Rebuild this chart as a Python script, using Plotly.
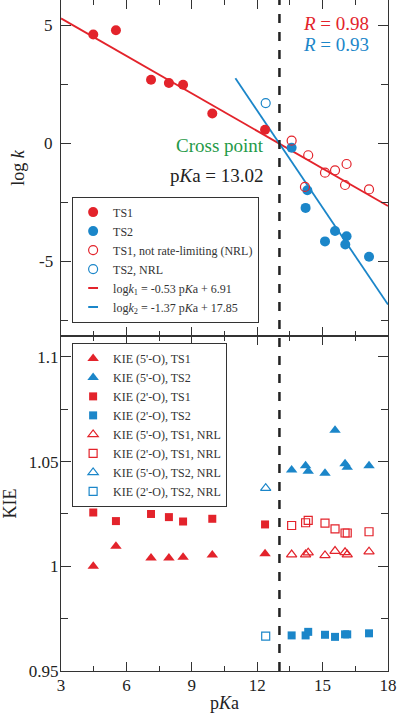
import plotly.graph_objects as go
from plotly.subplots import make_subplots

RED = '#e3232b'
BLUE = '#1b86c9'
GREEN = '#1f9a48'
FONT = 'Liberation Serif, Times New Roman, serif'

# ---- top panel: log k vs pKa ----
ts1_pka = [4.48, 5.52, 7.13, 7.95, 8.6, 9.94, 12.36]
ts1_logk = [4.64, 4.82, 2.72, 2.58, 2.51, 1.29, 0.6]
ts2_pka = [13.58, 14.3, 14.22, 15.57, 15.11, 16.1, 16.04, 17.13]
ts2_logk = [-0.16, -1.96, -2.71, -3.69, -4.13, -3.91, -4.26, -4.78]
ts1nrl_pka = [13.58, 14.34, 16.1, 15.11, 15.57, 16.03, 17.13, 14.19]
ts1nrl_logk = [0.14, -0.48, -0.85, -1.22, -1.12, -1.74, -1.93, -1.82]
ts2nrl_pka = [12.39]
ts2nrl_logk = [1.73]

fit1_slope, fit1_icpt = -0.53, 6.91
fit2_slope, fit2_icpt = -1.37, 17.85
fit1_x = [3, 18]
fit2_x = [11, 18]
cross_pka = 13.02

# ---- bottom panel: KIE vs pKa ----
kie_ts1_pka = [4.48, 5.52, 7.13, 7.95, 8.6, 9.94, 12.36]
kie5_ts1 = [1.000, 1.0096, 1.004, 1.004, 1.0043, 1.0054, 1.006]
kie2_ts1 = [1.0257, 1.0216, 1.025, 1.0235, 1.0214, 1.0227, 1.020]
kie_ts2_pka = [13.58, 14.22, 14.34, 15.11, 15.57, 16.03, 16.13, 17.13]
kie5_ts2 = [1.046, 1.048, 1.0454, 1.0444, 1.065, 1.049, 1.0473, 1.048]
kie2_ts2 = [0.967, 0.967, 0.9687, 0.9673, 0.9663, 0.9675, 0.9675, 0.968]
kie5_ts1_nrl = [1.0056, 1.0056, 1.0065, 1.0052, 1.0073, 1.0067, 1.0056, 1.007]
kie2_ts1_nrl = [1.0195, 1.0208, 1.0219, 1.0206, 1.0179, 1.0159, 1.0159, 1.0165]
kie_ts2nrl_pka = [12.39]
kie5_ts2_nrl = [1.0373]
kie2_ts2_nrl = [0.9667]

x_ticks = [3, 6, 9, 12, 15, 18]
logk_ticks = [-5, 0, 5]
logk_ticktext = ['-5', '0', '5']
kie_ticks = [0.95, 1.0, 1.05, 1.1]
kie_ticktext = ['0.95', '1', '1.05', '1.1']

fig = make_subplots(rows=2, cols=1, shared_xaxes=True, vertical_spacing=0,
                    row_heights=[336, 335])

def pts(x, y, name, symbol, color, size, legend, row, filled=True):
    marker = dict(symbol=symbol, size=size, color=color,
                  line=dict(color=color, width=0 if filled else 1.2))
    fig.add_trace(go.Scatter(x=x, y=y, mode='markers', name=name, marker=marker,
                             legend=legend), row=row, col=1)

# fit lines (no legend)
fig.add_trace(go.Scatter(x=fit1_x, y=[fit1_slope * v + fit1_icpt for v in fit1_x],
                         mode='lines', line=dict(color=RED, width=1.8),
                         showlegend=False), row=1, col=1)
fig.add_trace(go.Scatter(x=fit2_x, y=[fit2_slope * v + fit2_icpt for v in fit2_x],
                         mode='lines', line=dict(color=BLUE, width=1.8),
                         showlegend=False), row=1, col=1)

pts(ts1_pka, ts1_logk, 'TS1', 'circle', RED, 10, 'legend', 1)
pts(ts2_pka, ts2_logk, 'TS2', 'circle', BLUE, 10, 'legend', 1)
pts(ts1nrl_pka, ts1nrl_logk, 'TS1, not rate-limiting (NRL)', 'circle-open', RED, 9, 'legend', 1, False)
pts(ts2nrl_pka, ts2nrl_logk, 'TS2, NRL', 'circle-open', BLUE, 9, 'legend', 1, False)

# legend-only entries for the fit lines
for name, color in [('log<i>k</i><sub>1</sub> = -0.53 p<i>K</i>a + 6.91', RED),
                    ('log<i>k</i><sub>2</sub> = -1.37 p<i>K</i>a + 17.85', BLUE)]:
    fig.add_trace(go.Scatter(x=[None], y=[None], mode='markers', name=name, legend='legend',
                             marker=dict(symbol='line-ew-open', size=7, color=color,
                                         line=dict(color=color, width=2))), row=1, col=1)

pts(kie_ts1_pka, kie5_ts1, "KIE (5'-O), TS1", 'triangle-up', RED, 10, 'legend2', 2)
pts(kie_ts2_pka, kie5_ts2, "KIE (5'-O), TS2", 'triangle-up', BLUE, 10, 'legend2', 2)
pts(kie_ts1_pka, kie2_ts1, "KIE (2'-O), TS1", 'square', RED, 8, 'legend2', 2)
pts(kie_ts2_pka, kie2_ts2, "KIE (2'-O), TS2", 'square', BLUE, 8, 'legend2', 2)
pts(kie_ts2_pka, kie5_ts1_nrl, "KIE (5'-O), TS1, NRL", 'triangle-up-open', RED, 9, 'legend2', 2, False)
pts(kie_ts2_pka, kie2_ts1_nrl, "KIE (2'-O), TS1, NRL", 'square-open', RED, 8, 'legend2', 2, False)
pts(kie_ts2nrl_pka, kie5_ts2_nrl, "KIE (5'-O), TS2, NRL", 'triangle-up-open', BLUE, 9, 'legend2', 2, False)
pts(kie_ts2nrl_pka, kie2_ts2_nrl, "KIE (2'-O), TS2, NRL", 'square-open', BLUE, 8, 'legend2', 2, False)

axis_common = dict(showline=True, linecolor='#333', linewidth=1.3, mirror='ticks',
                   ticks='inside', tickwidth=1.2, tickcolor='#333',
                   showgrid=False, zeroline=False,
                   tickfont=dict(family=FONT, size=17, color='#222'))

fig.update_xaxes(**axis_common, ticklen=9, range=[3, 18], tickvals=x_ticks, ticklabelstandoff=-2,
                 minor=dict(dtick=1.5, tick0=3, ticks='inside', ticklen=5,
                            tickwidth=1.2, tickcolor='#333', showgrid=False))
fig.update_xaxes(showticklabels=False, row=1, col=1)
fig.update_xaxes(title=dict(text='p<i>K</i>a', font=dict(family=FONT, size=18, color='#222'),
                            standoff=2), row=2, col=1)

fig.update_yaxes(**axis_common, ticklen=10)
# top axis: tick marks from the axis, labels placed at the axis' tick values below
fig.update_yaxes(range=[-8.14, 6.1], tickvals=logk_ticks, showticklabels=False,
                 minor=dict(dtick=2.5, tick0=0, ticks='inside', ticklen=7,
                            tickwidth=1.2, tickcolor='#333', showgrid=False),
                 title=dict(text='log <i>k</i>', font=dict(family=FONT, size=18, color='#222'),
                            standoff=30),
                 row=1, col=1)
fig.update_yaxes(range=[0.95, 1.11], tickvals=kie_ticks, ticktext=kie_ticktext,
                 ticklabelstandoff=-2,
                 minor=dict(dtick=0.025, tick0=0.95, ticks='inside', ticklen=7,
                            tickwidth=1.2, tickcolor='#333', showgrid=False),
                 title=dict(text='KIE', font=dict(family=FONT, size=18, color='#222'),
                            standoff=9),
                 row=2, col=1)

for v, t in zip(logk_ticks, logk_ticktext):
    fig.add_annotation(x=0, y=v, xref='paper', yref='y', text=t, showarrow=False,
                       xanchor='right', xshift=-6,
                       font=dict(family=FONT, size=17, color='#222'))

# vertical dashed cross-point line
fig.add_shape(type='line', xref='x', yref='paper', x0=cross_pka, x1=cross_pka, y0=0, y1=1,
              line=dict(color='#222', width=2.5, dash='dash'))

fig.add_annotation(x=17.2, y=5.1, xref='x', yref='y', text='<i>R</i> = 0.98', showarrow=False,
                   xanchor='right', font=dict(family=FONT, size=19, color=RED))
fig.add_annotation(x=17.2, y=4.2, xref='x', yref='y', text='<i>R</i> = 0.93', showarrow=False,
                   xanchor='right', font=dict(family=FONT, size=19, color=BLUE))
fig.add_annotation(x=12.4, y=-0.05, xref='x', yref='y', text='Cross point', showarrow=False,
                   xanchor='right', font=dict(family=FONT, size=19, color=GREEN))
fig.add_annotation(x=12.4, y=-1.32, xref='x', yref='y', text='p<i>K</i>a = 13.02',
                   showarrow=False, xanchor='right', font=dict(family=FONT, size=19, color='#222'))

legend_common = dict(bgcolor='white', bordercolor='#333', borderwidth=1,
                     font=dict(family=FONT, size=12, color='#333'),
                     xanchor='left', yanchor='top', tracegroupgap=0, itemwidth=30)
fig.update_layout(
    width=400, height=715,
    margin=dict(l=61, r=12, t=0, b=44),
    plot_bgcolor='white', paper_bgcolor='white',
    font=dict(family=FONT, color='#222'),
    legend=dict(**legend_common, x=0.034, y=0.707),
    legend2=dict(**legend_common, x=0.034, y=0.489),
)

fig.write_html('out.html', config={'displayModeBar': False},
               post_script="document.body.style.margin='0';")
